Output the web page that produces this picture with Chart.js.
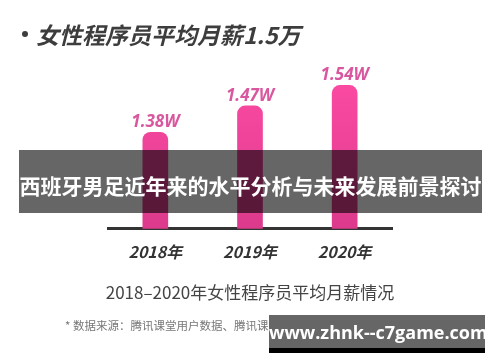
<!DOCTYPE html>
<html>
<head>
<meta charset="utf-8">
<script src="https://cdn.jsdelivr.net/npm/chart.js@4.4.1/dist/chart.umd.min.js"></script>
<style>
  html, body { margin: 0; padding: 0; background: #fff; }
  #wrap { position: relative; width: 500px; height: 362px; overflow: hidden; font-family: 'Noto Sans CJK SC', sans-serif; }
  #salaryChart { position: absolute; left: 0; top: 0; }
  .dot { position: absolute; left: 22px; top: 31px; width: 6px; height: 6px; border-radius: 50%; background: #3d3d3d; }
  .title { position: absolute; left: 36px; top: 18px; font-size: 23px; font-weight: bold; font-style: italic; color: #3d3d3d; white-space: nowrap; line-height: 32px; }
  .subtitle { position: absolute; left: 0; width: 500px; top: 280px; text-align: center; font-size: 17px; color: #444; line-height: 24px; white-space: nowrap; }
  .note { position: absolute; left: 65px; top: 317px; font-size: 11.5px; color: #777; line-height: 16px; white-space: nowrap; }
  .banner { position: absolute; left: 19px; top: 150px; width: 463px; height: 63px; background: rgba(0,0,0,0.6); color: #fff; font-size: 21px; font-weight: bold; text-align: center; line-height: 70px; white-space: nowrap; }
  .mark { position: absolute; left: 269px; top: 315px; width: 216px; height: 33px; border-bottom: 5px solid #000; background: #666; color: #fff; font-family: 'Open Sans', sans-serif; font-size: 18px; font-weight: bold; text-align: center; line-height: 34px; white-space: nowrap; }
</style>
</head>
<body>
<div id="wrap">
  <canvas id="salaryChart" width="500" height="362"></canvas>
  <div class="dot"></div>
  <div class="title">女性程序员平均月薪1.5万</div>
  <div class="banner">西班牙男足近年来的水平分析与未来发展前景探讨</div>
  <div class="subtitle">2018–2020年女性程序员平均月薪情况</div>
  <div class="note">* 数据来源：腾讯课堂用户数据、腾讯课堂问卷调研数据、猎聘用户数据</div>
  <div class="mark">www.zhnk--c7game.com</div>
</div>
<script>
// Data
const years = ['2018年', '2019年', '2020年'];
const salary = [1.38, 1.47, 1.54];        // 万元
const salaryLabels = ['1.38W', '1.47W', '1.54W'];

// pink gradient for the bars
function barGradient(context) {
  const chart = context.chart;
  const area = chart.chartArea;
  if (!area) return '#f0459c';
  const g = chart.ctx.createLinearGradient(0, area.top, 0, area.bottom);
  g.addColorStop(0, '#ff4ca5');
  g.addColorStop(1, '#dc3a8c');
  return g;
}

// value labels above bars
const valueLabels = {
  id: 'valueLabels',
  afterDatasetsDraw(chart) {
    const ctx = chart.ctx;
    const meta = chart.getDatasetMeta(0);
    ctx.save();
    ctx.font = 'italic bold 17px "Open Sans", sans-serif';
    ctx.fillStyle = '#d9579f';
    ctx.textAlign = 'center';
    ctx.textBaseline = 'middle';
    meta.data.forEach((bar, i) => {
      ctx.fillText(salaryLabels[i], bar.x, bar.y - 10);
    });
    ctx.restore();
  }
};

new Chart(document.getElementById('salaryChart'), {
  type: 'bar',
  data: {
    labels: years,
    datasets: [{
      data: salary,
      backgroundColor: barGradient,
      barThickness: 25,
      borderRadius: { topLeft: 8, topRight: 8 },
      borderSkipped: 'bottom'
    }]
  },
  options: {
    responsive: false,
    animation: false,
    devicePixelRatio: 1,
    layout: { padding: { left: 108, right: 108, top: 62, bottom: 86 } },
    plugins: { legend: { display: false }, tooltip: { enabled: false } },
    scales: {
      x: {
        grid: { display: false, drawTicks: false },
        border: { display: true, color: '#333', width: 3 },
        ticks: {
          padding: 14,
          color: '#333',
          font: { family: "'Noto Sans CJK SC', sans-serif", size: 16, weight: 'bold', style: 'italic' }
        }
      },
      y: { display: false, min: 1.05, max: 1.62 }
    }
  },
  plugins: [valueLabels]
});
</script>
</body>
</html>
